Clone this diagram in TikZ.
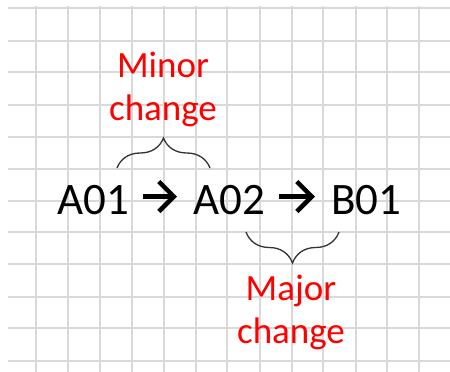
\documentclass[tikz,border=0pt]{standalone}
\usepackage{fontspec}
\setmainfont{Carlito}
\usetikzlibrary{arrows.meta,decorations.pathreplacing}
\begin{document}
\begin{tikzpicture}[x=1pt,y=-1pt,
  gridline/.style={draw=black!15, line width=1.3pt},
  code/.style={font=\fontsize{45}{54}\selectfont, inner sep=0pt, anchor=base west, text=black},
  note/.style={font=\fontsize{37}{43}\selectfont, text=red, align=center, inner sep=0pt, anchor=base},
  flow/.style={line width=4.5pt, -{Straight Barb[length=15pt,width=30pt,line width=4.5pt]}},
  bracestyle/.style={decorate, decoration={brace, amplitude=30pt}, line width=1.3pt, draw=black!80}
]
\fill[white] (0,0) rectangle (450,372);
\useasboundingbox (0,0) rectangle (450,372);
% grid
\foreach \y in {8,41,72,105,137,169,201,232,264,297,328,361}
  \draw[gridline] (8,\y) -- (450,\y);
\foreach \x in {36,68,100,132,164,196,227,260,292,323,356,387,419}
  \draw[gridline] (\x,6) -- (\x,372);
% codes
\node[code] (a01) at (57,214) {A01};
\node[code] (a02) at (193,214) {A02};
\node[code] (b01) at (331,214) {B01};
% arrows
\draw[flow, shorten <=14pt, shorten >=16pt] ([yshift=3pt]a01.east) -- ([yshift=3pt]a02.west);
\draw[flow, shorten <=14pt, shorten >=16pt] ([yshift=3pt]a02.east) -- ([yshift=3pt]b01.west);
% braces
\coordinate (m1) at (117,168);
\coordinate (m2) at (210,168);
\coordinate (j1) at (339,232);
\coordinate (j2) at (246,232);
\draw[bracestyle] (m1) -- (m2);
\draw[bracestyle, decoration={amplitude=31pt}] (j1) -- (j2);
% labels
\node[note] (minor) at (163,120) {Minor\\change};
\node[note] (major) at (291,343) {Major\\change};
\end{tikzpicture}
\end{document}
